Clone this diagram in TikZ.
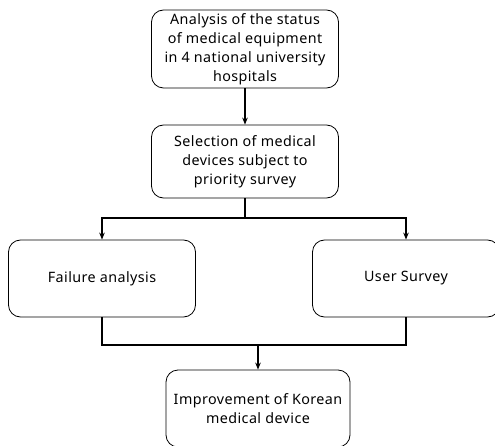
\documentclass[tikz,border=0pt]{standalone}
\usepackage{fontspec}
\setmainfont[LetterSpace=3]{Noto Sans}
\usetikzlibrary{arrows.meta}
\begin{document}
\begin{tikzpicture}[x=1pt,y=1pt,
  box/.style={draw, rounded corners=12pt, line width=0.8pt, minimum width=187pt, align=center, font=\fontsize{14.3}{19}\selectfont, inner sep=1pt},
  conn/.style={line width=1.5pt},
  arr/.style={line width=1.5pt, -{Stealth[length=7pt,width=5.5pt]}}]
\useasboundingbox (0,0) rectangle (495,445);
\node[box, minimum height=78pt] (a) at (245,396) {Analysis of the status\\of medical equipment\\in 4 national university\\hospitals};
\node[box, minimum height=73pt] (b) at (245,283.5) {Selection of medical\\devices subject to\\priority survey};
\node[box, minimum height=77pt] (c) at (102,166.5) {Failure analysis};
\node[box, minimum height=77pt] (d) at (406,166.5) {User Survey};
\node[box, minimum height=77pt, minimum width=184pt] (e) at (258,36.5) {Improvement of Korean\\medical device};
\coordinate (j1) at (245,227);
\coordinate (j2) at (258,100);
\draw[arr] (a.south) -- (b.north);
\draw[conn] (b.south) -- (j1);
\draw[arr] (j1) -| (c.north);
\draw[arr] (j1) -| (d.north);
\draw[conn] (c.south) |- (j2);
\draw[conn] (d.south) |- (j2);
\draw[arr] (j2) -- (e.north);
\end{tikzpicture}
\end{document}
